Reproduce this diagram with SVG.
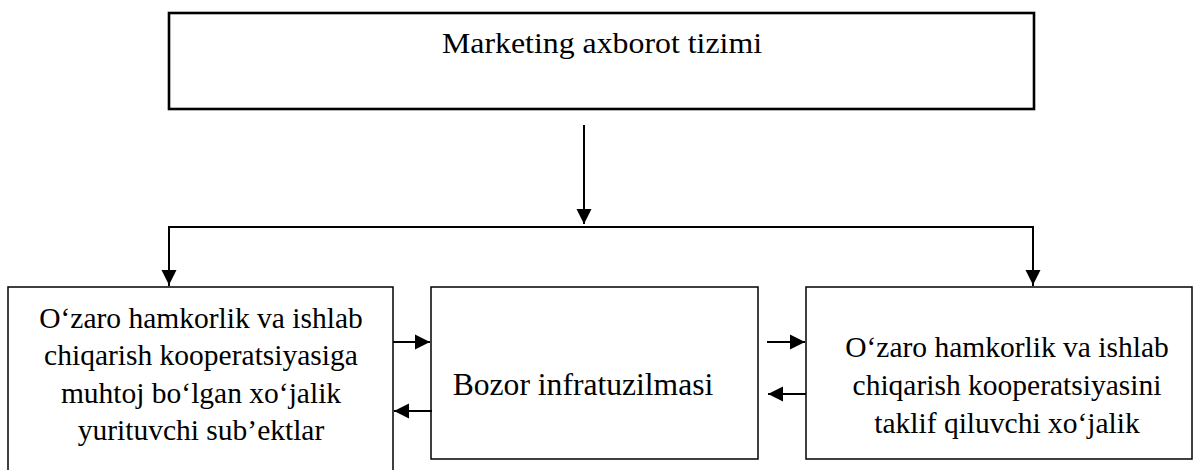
<svg xmlns="http://www.w3.org/2000/svg" width="1197" height="470" viewBox="0 0 1197 470">
<style>
.box{fill:#fff;stroke:#000;stroke-width:1.5}
.top{fill:#fff;stroke:#000;stroke-width:2.6}
.t{font-family:'Liberation Serif','Times New Roman','DejaVu Serif',serif;font-size:29.5px;fill:#000;text-anchor:middle}
.m{font-size:31.6px}
.c{fill:none;stroke:#000;stroke-width:2}
</style>
<defs>
<marker id="av" viewBox="0 0 10 10" refX="10" refY="5" markerWidth="15" markerHeight="17" markerUnits="userSpaceOnUse" orient="auto">
<path d="M0,0 L10,5 L0,10 Z" fill="#000"/>
</marker>
</defs>
<g id="node-top">
<rect class="top" x="169" y="13" width="865" height="96"/>
<text class="t" x="602" y="53" font-size="32" textLength="320" lengthAdjust="spacingAndGlyphs">Marketing axborot tizimi</text>
</g>
<g id="node-left">
<rect class="box" x="8" y="287" width="385" height="190"/>
<text class="t" x="201" y="328">O‘zaro hamkorlik va ishlab</text>
<text class="t" x="201" y="365">chiqarish kooperatsiyasiga</text>
<text class="t" x="201" y="403">muhtoj bo‘lgan xo‘jalik</text>
<text class="t" x="201" y="440">yurituvchi sub’ektlar</text>
</g>
<g id="node-middle">
<rect class="box" x="431" y="287" width="327" height="172"/>
<text class="t m" x="583" y="395">Bozor infratuzilmasi</text>
</g>
<g id="node-right">
<rect class="box" x="806" y="287" width="386" height="172"/>
<text class="t" x="1007" y="357">O‘zaro hamkorlik va ishlab</text>
<text class="t" x="1007" y="395">chiqarish kooperatsiyasini</text>
<text class="t" x="1007" y="433">taklif qiluvchi xo‘jalik</text>
</g>
<g id="connectors">
<path class="c" d="M584,125 V224" marker-end="url(#av)"/>
<path class="c" d="M169,286 V227 H1033 V286"/>
<path class="c" d="M169,270 V285" marker-end="url(#av)"/>
<path class="c" d="M1033,270 V285" marker-end="url(#av)"/>
<path class="c" d="M393,342 H430" marker-end="url(#av)"/>
<path class="c" d="M432,411 H394" marker-end="url(#av)"/>
<path class="c" d="M767,342 H805" marker-end="url(#av)"/>
<path class="c" d="M806,394 H768" marker-end="url(#av)"/>
</g>
</svg>
